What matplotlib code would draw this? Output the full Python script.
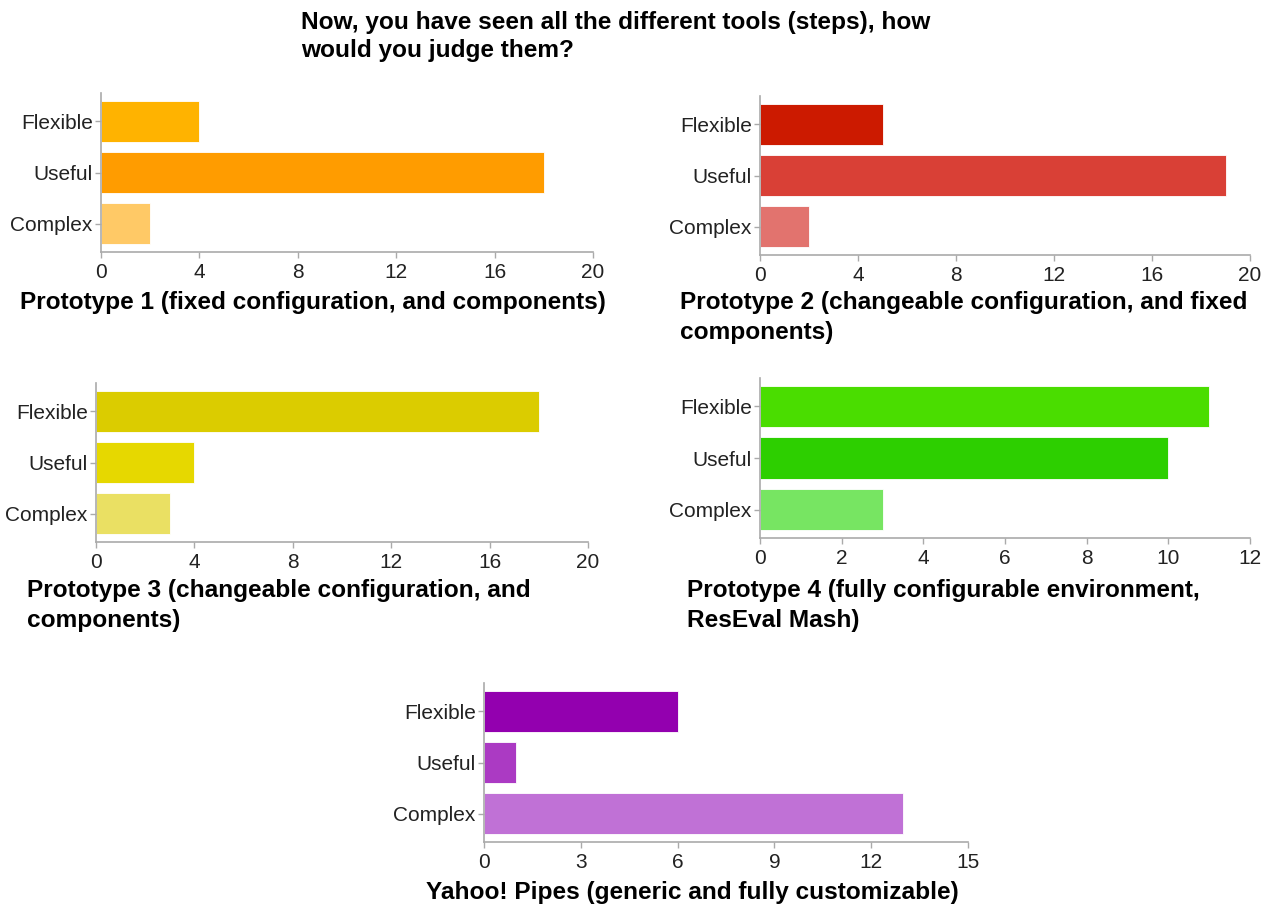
import matplotlib
matplotlib.use("Agg")
import matplotlib.pyplot as plt

plt.rcParams['font.family'] = ['Liberation Sans', 'DejaVu Sans']

# ----------------- Data -----------------
categories = ["Flexible", "Useful", "Complex"]

p1_values = [4, 18, 2]
p2_values = [5, 19, 2]
p3_values = [18, 4, 3]
p4_values = [11, 10, 3]
yahoo_values = [6, 1, 13]

p1_ticks = [0, 4, 8, 12, 16, 20]
p2_ticks = [0, 4, 8, 12, 16, 20]
p3_ticks = [0, 4, 8, 12, 16, 20]
p4_ticks = [0, 2, 4, 6, 8, 10, 12]
yahoo_ticks = [0, 3, 6, 9, 12, 15]

p1_colors = ["#FFB300", "#FF9C00", "#FFC966"]
p2_colors = ["#CC1A00", "#D94036", "#E2736E"]
p3_colors = ["#DBCC00", "#E6D800", "#EAE063"]
p4_colors = ["#4ADD00", "#2DCF00", "#77E562"]
yahoo_colors = ["#9300AF", "#AB3AC3", "#C071D6"]

main_title = ["Now, you have seen all the different tools (steps), how",
              "would you judge them?"]
p1_title = ["Prototype 1 (fixed configuration, and components)"]
p2_title = ["Prototype 2 (changeable configuration, and fixed", "components)"]
p3_title = ["Prototype 3 (changeable configuration, and", "components)"]
p4_title = ["Prototype 4 (fully configurable environment,", "ResEval Mash)"]
yahoo_title = ["Yahoo! Pipes (generic and fully customizable)"]

W, H = 1276, 908
fig = plt.figure(figsize=(W / 100, H / 100), dpi=100)


def px_axes(left, top, right, bottom):
    return fig.add_axes([left / W, 1 - bottom / H, (right - left) / W, (bottom - top) / H])


def draw_panel(ax, values, colors, ticks):
    ax.barh(range(len(categories)), values, height=0.8, color=colors,
            edgecolor="white", linewidth=0.6)
    ax.set_ylim(2.55, -0.55)
    ax.set_xlim(ticks[0], ticks[-1])
    ax.set_xticks(ticks)
    ax.set_yticks(range(len(categories)))
    ax.set_yticklabels(categories)
    for side in ["top", "right"]:
        ax.spines[side].set_visible(False)
    for side in ["left", "bottom"]:
        ax.spines[side].set_color("#aaaaaa")
        ax.spines[side].set_linewidth(1.2)
    ax.tick_params(axis="both", colors="#aaaaaa", length=4, width=1,
                   labelcolor="#222222", labelsize=15, pad=2)
    ax.tick_params(axis="x", pad=4)


def title_text(x, y, lines, ha="left", step=29):
    for i, line in enumerate(lines):
        fig.text(x / W, 1 - (y + i * step) / H, line, ha=ha, va="center",
                 fontsize=17.6, fontweight="bold", color="black")


draw_panel(px_axes(101, 93, 593, 252), p1_values, p1_colors, p1_ticks)
draw_panel(px_axes(760, 96, 1250, 255), p2_values, p2_colors, p2_ticks)
draw_panel(px_axes(96, 383, 588, 542), p3_values, p3_colors, p3_ticks)
draw_panel(px_axes(760, 378, 1250, 538), p4_values, p4_colors, p4_ticks)
draw_panel(px_axes(484, 683, 968, 842), yahoo_values, yahoo_colors, yahoo_ticks)

title_text(301, 22, main_title, step=28)
title_text(20, 302, p1_title)
title_text(680, 302, p2_title, step=30)
title_text(27, 591, p3_title, step=30)
title_text(687, 591, p4_title, step=30)
title_text(692, 892, yahoo_title, ha="center")

fig.savefig("out.png", dpi=100)
